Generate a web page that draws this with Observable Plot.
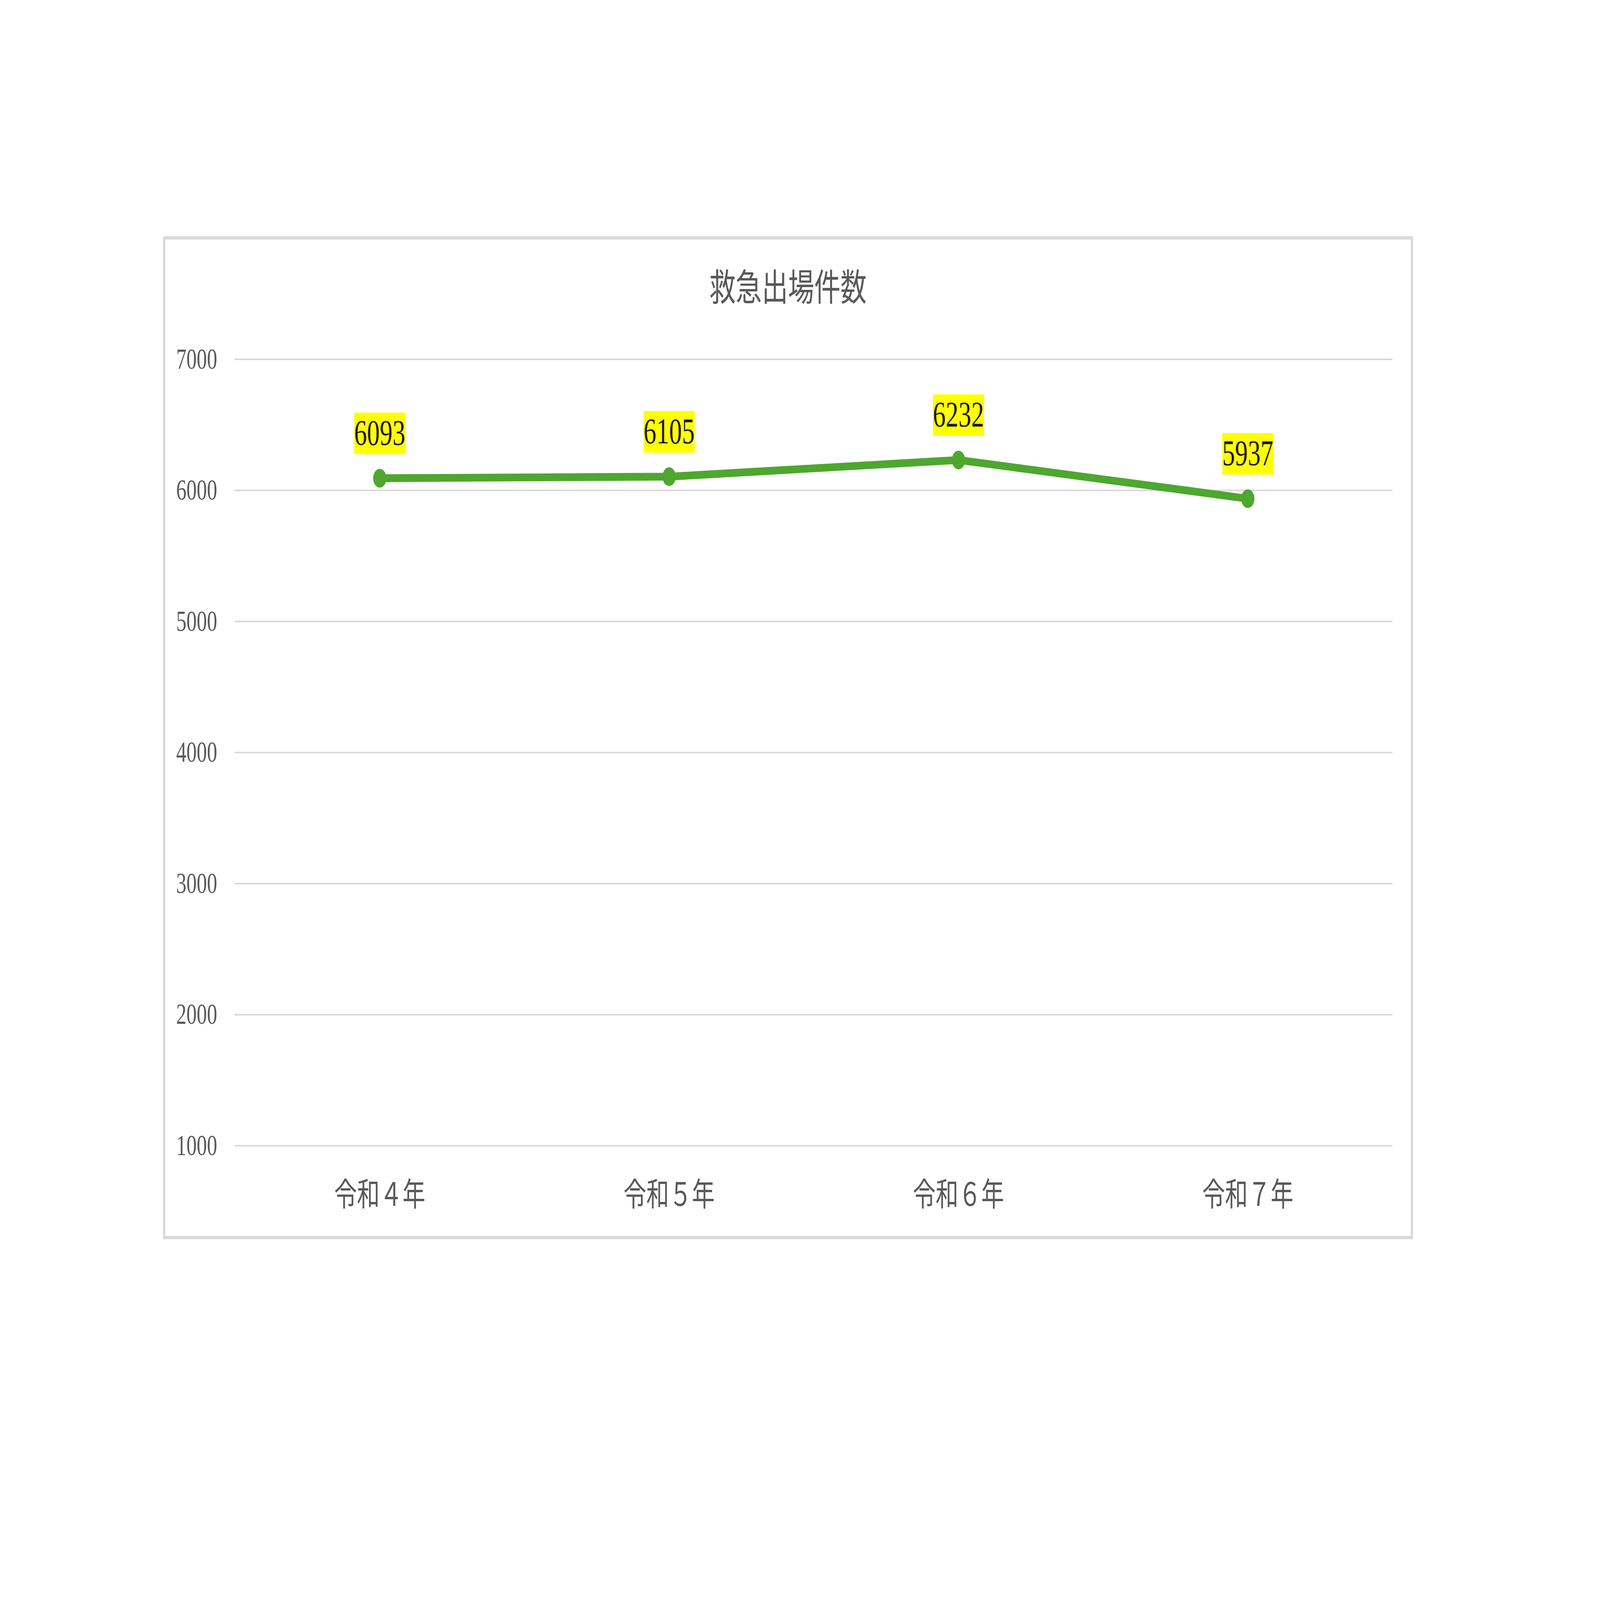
<!DOCTYPE html>
<html>
<head>
<meta charset="utf-8">
<script src="https://cdn.jsdelivr.net/npm/d3@7"></script>
<script src="https://cdn.jsdelivr.net/npm/@observablehq/plot@0.6"></script>
<style>
  html, body { margin: 0; padding: 0; background: #ffffff; overflow: hidden; }
  #page { position: absolute; left: 0; top: 0; width: 7017px; height: 4958px; transform-origin: 0 0; }
  #box { position: absolute; left: 715px; top: 732px; width: 5482px; height: 3108px; }
  #border { position: absolute; left: 0; top: 0; width: 5482px; height: 3108px; box-sizing: border-box; border: 10px solid #d9d9d9; pointer-events: none; }
  #title { position: absolute; left: 0; width: 5482px; top: 104px; text-align: center; font-family: "Liberation Serif", "Noto Sans CJK JP", serif; font-size: 115px; line-height: 1; color: #595959; }
  #chart { position: absolute; left: 0; top: 0; }
</style>
</head>
<body>
<div id="page">
  <div id="box">
    <div id="chart"></div>
    <div id="title">救急出場件数</div>
    <div id="border"></div>
  </div>
</div>
<script>
const categories = ["令和４年", "令和５年", "令和６年", "令和７年"];
const values = [6093, 6105, 6232, 5937];
const yTicks = [1000, 2000, 3000, 4000, 5000, 6000, 7000];

const data = categories.map((c, i) => ({ category: c, value: values[i] }));

const labelBox = {
  draw(context) {
    context.rect(-112, -64.5, 224, 129);
  }
};

const chart = Plot.plot({
  width: 5482,
  height: 3108,
  marginLeft: 314,
  marginRight: 90,
  marginTop: 381,
  marginBottom: 290,
  style: { background: "transparent", fontFamily: "'Liberation Serif', 'Noto Sans CJK JP', serif" },
  x: { type: "point", domain: categories, padding: 0.5, label: null },
  y: { domain: [1000, 7000], label: null },
  marks: [
    Plot.gridY(yTicks, { stroke: "#d9d9d9", strokeOpacity: 1, strokeWidth: 5 }),
    Plot.axisY({ ticks: yTicks, tickFormat: d => String(d), tickSize: 0, tickPadding: 77, fontSize: 90, fill: "#595959", label: null }),
    Plot.axisX({ tickSize: 0, tickPadding: 115, fontSize: 100, fill: "#595959", label: null }),
    Plot.line(data, { x: "category", y: "value", stroke: "#4ea72e", strokeWidth: 24, strokeLinejoin: "round" }),
    Plot.dot(data, { x: "category", y: "value", r: 29, fill: "#4ea72e", stroke: "none" }),
    Plot.dot(data, { x: "category", y: "value", r: 10, symbol: labelBox, fill: "#ffff00", stroke: "none", dy: -139 }),
    Plot.text(data, { x: "category", y: "value", text: d => String(d.value), dy: -139, lineAnchor: "middle", fontSize: 112, fill: "#1a1a1a", fontFamily: "'Liberation Serif', serif" })
  ]
});
document.getElementById("chart").appendChild(chart);

function fit() {
  const sx = window.innerWidth / 7017, sy = window.innerHeight / 4958;
  document.getElementById("page").style.transform = `scale(${sx}, ${sy})`;
}
fit();
window.addEventListener("resize", fit);
</script>
</body>
</html>
